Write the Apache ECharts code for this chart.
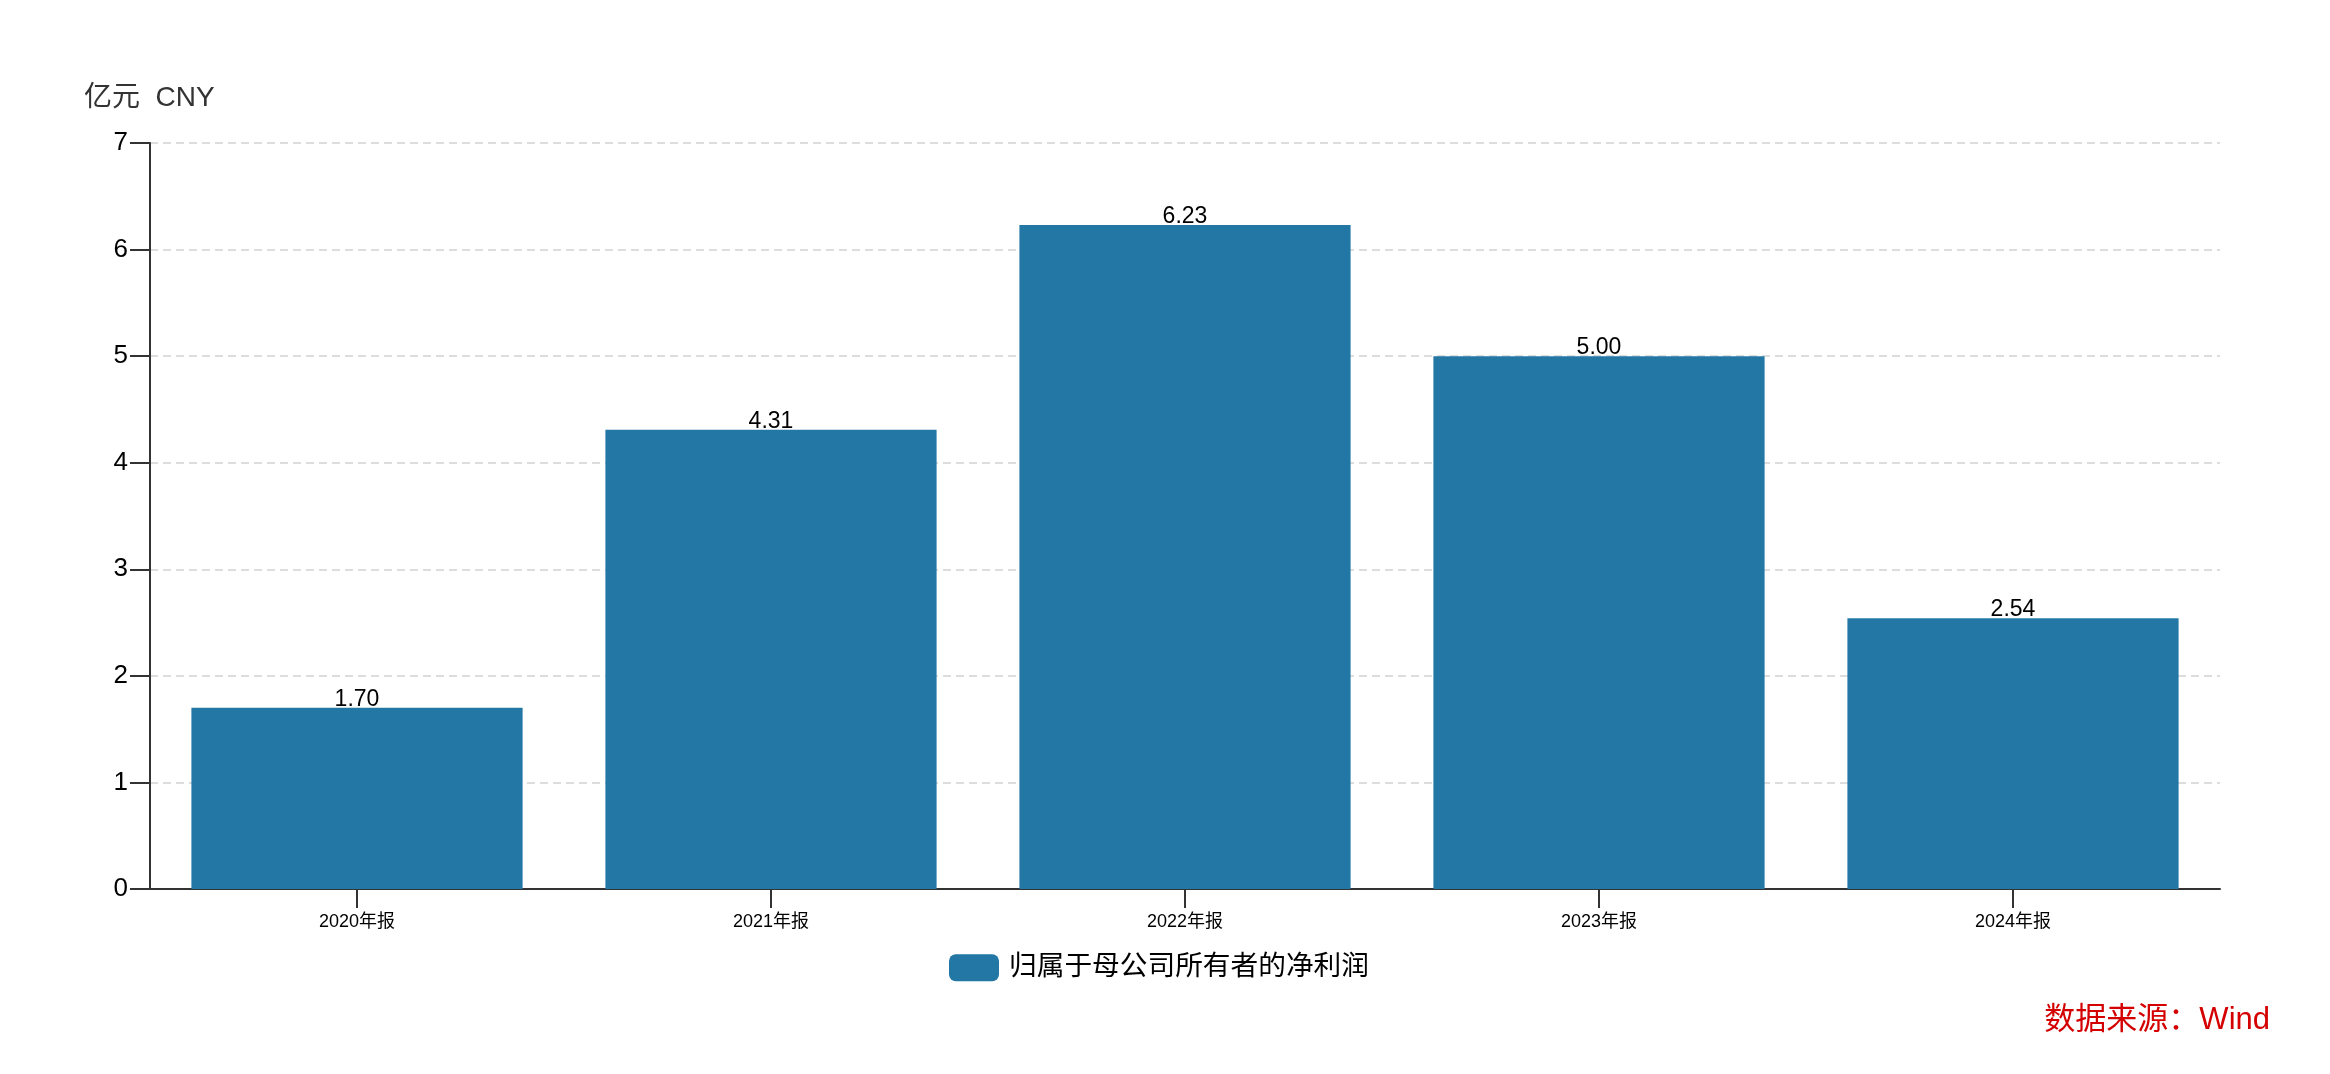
<!DOCTYPE html>
<html>
<head>
<meta charset="utf-8">
<script src="https://cdn.jsdelivr.net/npm/echarts@6/dist/echarts.min.js"></script>
<style>
html,body{margin:0;padding:0;background:#fff;}
#chart{width:2330px;height:1074px;}
</style>
</head>
<body>
<div id="chart"></div>
<script>
const categories = ['2020年报', '2021年报', '2022年报', '2023年报', '2024年报'];
const netProfit = [1.70, 4.31, 6.23, 5.00, 2.54];
const seriesName = '归属于母公司所有者的净利润';
const unitLabel = '亿元  CNY';
const sourceLabel = '数据来源：Wind';

const FONT = '"Liberation Sans", "Noto Sans CJK SC", sans-serif';
const chart = echarts.init(document.getElementById('chart'), null, {renderer: 'canvas'});
chart.setOption({
  animation: false,
  backgroundColor: '#fff',
  textStyle: {fontFamily: FONT},
  grid: {left: 150, right: 110, top: 143, bottom: 185, containLabel: false},
  legend: {
    data: [seriesName],
    left: 944, top: 949,
    icon: 'roundRect',
    itemWidth: 50, itemHeight: 27,
    textStyle: {fontSize: 27.7, color: '#000', fontFamily: FONT, padding: [0, 0, 0, 5]}
  },
  xAxis: {
    type: 'category',
    data: categories,
    axisLine: {lineStyle: {color: '#333', width: 2}},
    axisTick: {show: true, length: 19, alignWithLabel: true, lineStyle: {color: '#333', width: 2}},
    axisLabel: {fontSize: 18, color: '#000', margin: 24, fontFamily: FONT}
  },
  yAxis: {
    type: 'value',
    min: 0, max: 7, interval: 1,
    axisLine: {show: true, lineStyle: {color: '#333', width: 2}},
    axisTick: {show: true, length: 20, lineStyle: {color: '#333', width: 2}},
    axisLabel: {fontSize: 26, color: '#000', margin: 22, fontFamily: FONT},
    splitLine: {show: true, lineStyle: {color: '#ddd', width: 2, type: [8, 5]}}
  },
  series: [{
    name: seriesName,
    type: 'bar',
    data: netProfit,
    barCategoryGap: '20%',
    itemStyle: {color: '#2377a4'},
    label: {
      show: true, position: 'top', distance: -3,
      fontSize: 23, color: '#000', fontFamily: FONT,
      formatter: p => p.value.toFixed(2)
    }
  }],
  graphic: [
    {type: 'text', left: 84, top: 84, style: {text: unitLabel, font: '28px ' + FONT, fill: '#333'}},
    {type: 'text', right: 60, top: 1005, style: {text: sourceLabel, font: '31px ' + FONT, fill: '#d40000'}}
  ]
});
</script>
</body>
</html>
